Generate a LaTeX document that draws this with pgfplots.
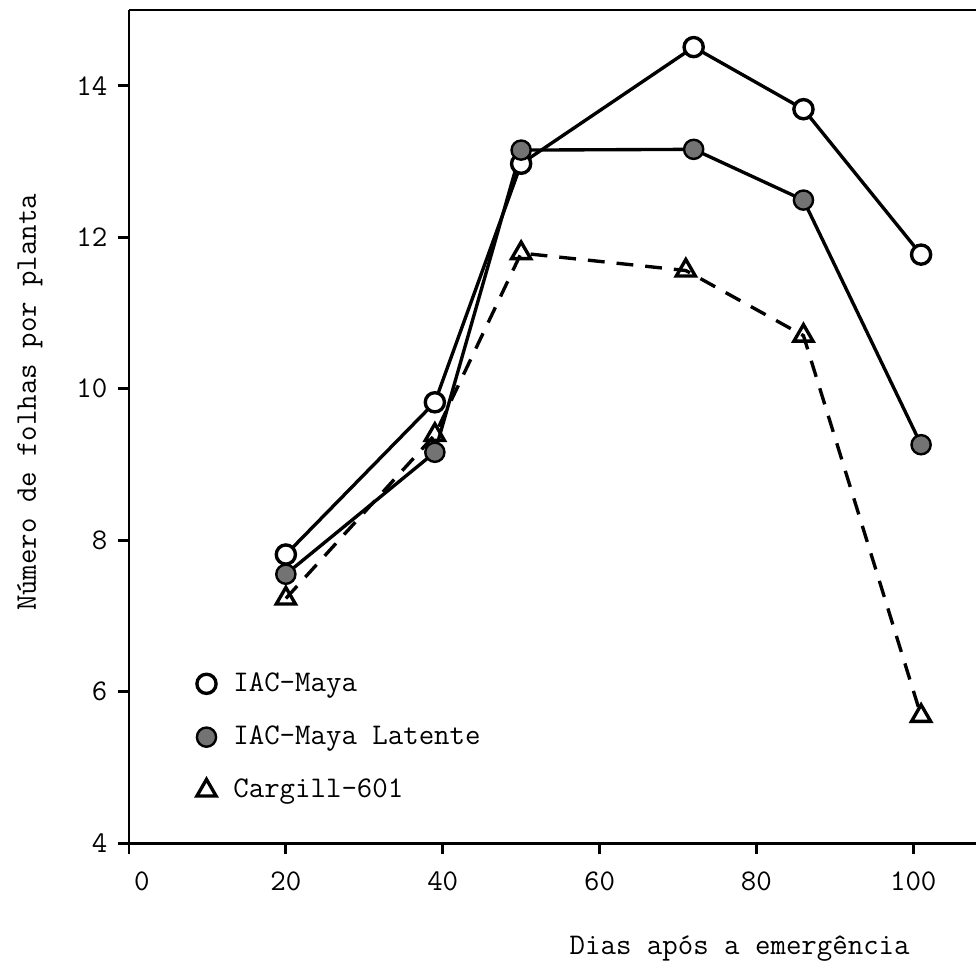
\documentclass[border=0pt]{standalone}
\usepackage{pgfplots}
\pgfplotsset{compat=1.18}
\usetikzlibrary{calc}
\begin{document}
\begin{tikzpicture}
\begin{axis}[name=ax, scale only axis, width=352.9pt, height=347.1pt,
  xmin=0, xmax=108, ymin=4, ymax=15,
  axis x line*=bottom, axis y line*=left,
  xtick={0,20,40,60,80,100}, ytick={4,6,8,10,12,14},
  xticklabels={\hspace*{10.8pt}0,20,40,60,80,100},
  tick align=outside, major tick length=4.5pt,
  tick style={line width=1.2pt,black},
  axis line style={line width=1.2pt},
  /pgf/number format/assume math mode=true,
  font=\ttfamily\fontsize{12.5}{15}\selectfont,
  ticklabel style={font=\ttfamily\fontsize{12.5}{15}\selectfont},
  xticklabel style={yshift=-4pt},
  yticklabel style={xshift=-1pt},
  xlabel={Dias após a emergência},
  ylabel={Número de folhas por planta},
  xlabel style={at={(axis description cs:0.721,-0.1333)}, anchor=base},
  ylabel style={at={(axis description cs:-0.117,0.529)}, anchor=center},
  legend style={draw=none, fill=none, at={(axis cs:8.3,6.32)}, anchor=north west,
    row sep=8.9pt, inner sep=0pt, cells={anchor=west}, font=\ttfamily\fontsize{12.5}{15}\selectfont},
  legend image code/.code={\draw[#1,solid] plot[only marks] coordinates {(0.15cm,0cm)}; \path (0cm,0cm) (0.15cm+8.5pt,0cm);},
  clip=false,
]
\draw[line width=1.2pt] (rel axis cs:0,1) -- (rel axis cs:1,1);
\addplot[line width=1.4pt, mark=*, mark size=4pt, mark options={line width=1.4pt, fill=white, draw=black}]
  coordinates {(20,7.81) (39,9.82) (50,12.97) (72,14.51) (86,13.69) (101,11.77)};
\addlegendentry{IAC-Maya}
\addplot[line width=1.4pt, mark=*, mark size=4pt, mark options={line width=1pt, fill=black!55, draw=black}]
  coordinates {(20,7.55) (39,9.16) (50,13.15) (72,13.16) (86,12.49) (101,9.26)};
\addlegendentry{IAC-Maya Latente}
\addplot[line width=1.4pt, dash pattern=on 7pt off 5pt, mark=triangle, mark size=4.6pt, mark options={solid, line width=1.4pt, fill=white, draw=black}]
  coordinates {(20,7.23) (39,9.39) (50,11.79) (71,11.56) (86,10.70) (101,5.68)};
\addlegendentry{Cargill-601}
\end{axis}
\pgfresetboundingbox
\path ($(ax.south west)+(-53.75pt,-51.25pt)$) rectangle ($(ax.north east)+(0pt,4.17pt)$);
\end{tikzpicture}
\end{document}
